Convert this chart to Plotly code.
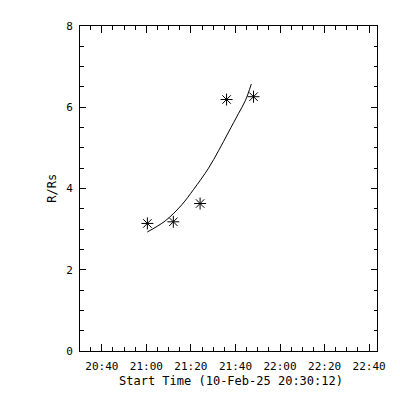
import plotly.graph_objects as go

# Measured points (time, R/Rs)
point_times = ["2025-02-10 21:00:27", "2025-02-10 21:12:06", "2025-02-10 21:24:07",
               "2025-02-10 21:36:00", "2025-02-10 21:48:06"]
point_r = [3.14, 3.18, 3.63, 6.19, 6.26]

# Fitted curve
fit_times = ["2025-02-10 21:00:24", "2025-02-10 21:08:24", "2025-02-10 21:15:54",
             "2025-02-10 21:21:06", "2025-02-10 21:27:54", "2025-02-10 21:32:24",
             "2025-02-10 21:36:54", "2025-02-10 21:41:18", "2025-02-10 21:44:24",
             "2025-02-10 21:47:06"]
fit_r = [2.93, 3.20, 3.60, 3.97, 4.50, 4.93, 5.39, 5.84, 6.16, 6.57]

x_range = ["2025-02-10 20:30:12", "2025-02-10 22:43:32"]
y_range = [0, 8]
x_title = "Start Time (10-Feb-25 20:30:12)"
y_title = "R/Rs"

fig = go.Figure()
fig.add_trace(go.Scatter(x=fit_times, y=fit_r, mode="lines",
                         line=dict(color="black", width=1, shape="spline"), showlegend=False))
fig.add_trace(go.Scatter(x=point_times, y=point_r, mode="markers",
                         marker=dict(symbol="asterisk-open", size=10,
                                     line=dict(color="black", width=1), color="black"),
                         showlegend=False))

mono = "DejaVu Sans Mono, Liberation Mono, monospace"
tickfont = dict(family=mono, size=11, color="black")

fig.update_layout(
    width=400, height=400,
    margin=dict(l=72, r=31, t=15, b=57),
    paper_bgcolor="white", plot_bgcolor="white",
    showlegend=False,
    xaxis=dict(type="date", range=x_range, tick0="2025-02-10 20:40:00", dtick=1200000,
               tickformat="%H:%M", ticks="inside", ticklen=7, tickcolor="black",
               showline=True, linecolor="black", linewidth=1, mirror="allticks",
               showgrid=False, zeroline=False, tickfont=tickfont, ticklabelstandoff=5,
               minor=dict(dtick=300000, tick0="2025-02-10 20:40:00", ticks="inside",
                          ticklen=4, tickcolor="black", showgrid=False)),
    yaxis=dict(range=y_range, dtick=2, tick0=0, ticks="inside", ticklen=6, tickcolor="black",
               showline=True, linecolor="black", linewidth=1, mirror="allticks",
               showgrid=False, zeroline=False, tickfont=tickfont, ticklabelstandoff=4,
               minor=dict(dtick=0.5, ticks="inside", ticklen=3.5, tickcolor="black",
                          showgrid=False)),
    annotations=[
        dict(text=x_title, xref="paper", yref="paper", x=0.51, y=-0.093,
             xanchor="center", yanchor="middle", showarrow=False,
             font=dict(family=mono, size=12, color="black")),
        dict(text=y_title, xref="paper", yref="paper", x=-0.097, y=0.5,
             xanchor="center", yanchor="middle", showarrow=False, textangle=-90,
             font=dict(family=mono, size=12, color="black")),
    ],
)

fig.write_html("out.html")
